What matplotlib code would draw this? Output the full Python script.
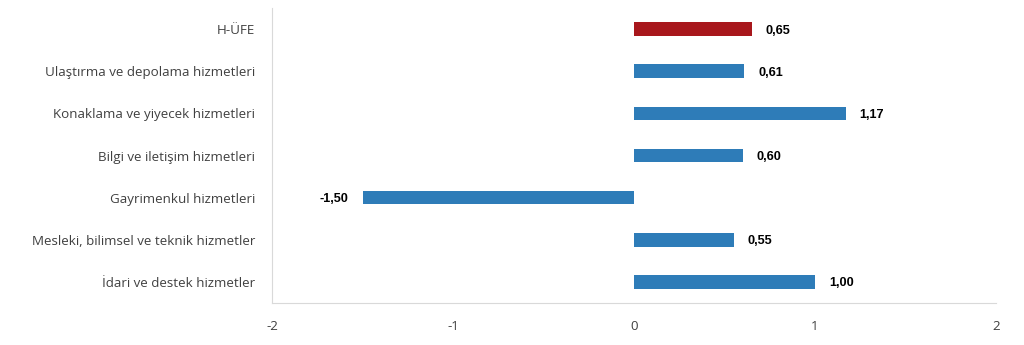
import matplotlib
matplotlib.use("Agg")
import matplotlib.pyplot as plt

categories = ["H-ÜFE", "Ulaştırma ve depolama hizmetleri", "Konaklama ve yiyecek hizmetleri",
              "Bilgi ve iletişim hizmetleri", "Gayrimenkul hizmetleri",
              "Mesleki, bilimsel ve teknik hizmetler", "İdari ve destek hizmetler"]
values = [0.65, 0.61, 1.17, 0.60, -1.50, 0.55, 1.00]
colors = ["#A8171C"] + ["#2E7CB8"] * 6
xticks = [-2, -1, 0, 1, 2]

fig = plt.figure(figsize=(10.24, 3.45), dpi=100)
ax = fig.add_axes([272/1024, 1-303/345, (996-272)/1024, (303-8)/345])
ypos = list(range(len(categories)))
ax.barh(ypos, values, height=0.32, color=colors)
ax.set_ylim(len(categories)-0.5, -0.5)
ax.set_xlim(-2, 2)
ax.set_yticks(ypos)
ax.set_yticklabels(categories, fontsize=9.6, color="#404040", family="Open Sans")
ax.set_xticks(xticks)
ax.set_xticklabels([str(t) for t in xticks], fontsize=9.6, color="#404040", family="Open Sans")
ax.tick_params(length=0, axis="y", pad=12)
ax.tick_params(length=0, axis="x", pad=12)
for s in ["top", "right"]:
    ax.spines[s].set_visible(False)
for s in ["left", "bottom"]:
    ax.spines[s].set_color("#d9d9d9")
for y, v in zip(ypos, values):
    lab = f"{v:.2f}".replace(".", ",")
    if v >= 0:
        ax.annotate(lab, (v, y), xytext=(10, 0), textcoords="offset points",
                    ha="left", va="center_baseline", fontsize=9.2, fontweight="bold",
                    family="Liberation Sans", color="black")
    else:
        ax.annotate(lab, (v, y), xytext=(-10, 0), textcoords="offset points",
                    ha="right", va="center_baseline", fontsize=9.2, fontweight="bold",
                    family="Liberation Sans", color="black")
fig.savefig("out.png", dpi=100)
